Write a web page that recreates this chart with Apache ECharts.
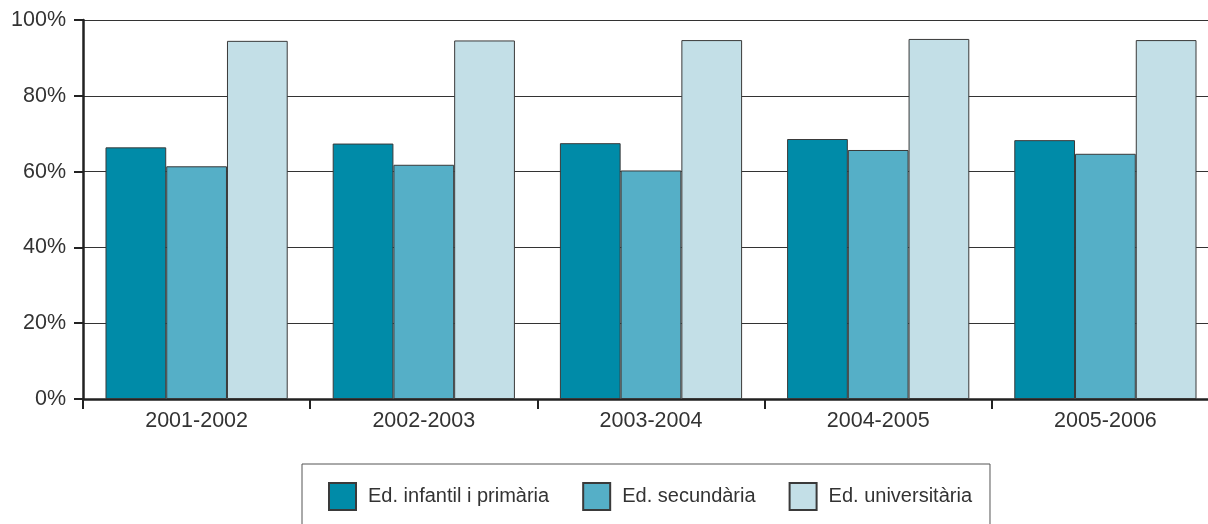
<!DOCTYPE html>
<html>
<head>
<meta charset="utf-8">
<script src="https://cdn.jsdelivr.net/npm/echarts@6/dist/echarts.min.js"></script>
<style>
html,body{margin:0;padding:0;background:#fff;overflow:hidden;width:1208px;height:524px;}
#chart{width:1219px;height:524px;}
</style>
</head>
<body>
<div id="chart"></div>
<script>
var categories = ['2001-2002', '2002-2003', '2003-2004', '2004-2005', '2005-2006'];
var seriesNames = ['Ed. infantil i primària', 'Ed. secundària', 'Ed. universitària'];
var infantil = [66.4, 67.4, 67.5, 68.6, 68.3];
var secundaria = [61.4, 61.8, 60.3, 65.7, 64.7];
var universitaria = [94.5, 94.6, 94.7, 95.0, 94.7];
var colors = ['#008ba8', '#55afc7', '#c3dfe7'];

var font = 'Liberation Sans, Arial, sans-serif';
var chart = echarts.init(document.getElementById('chart'));
function bar(name, data, color) {
  return {
    name: name, type: 'bar', data: data,
    barGap: '0%', barCategoryGap: '19.8%',
    itemStyle: { color: color, borderColor: '#3a3a3a', borderWidth: 1 },
    emphasis: { disabled: true }
  };
}
chart.setOption({
  animation: false,
  textStyle: { fontFamily: font },
  grid: { left: 83, top: 20, bottom: 125, right: 0, containLabel: false },
  legend: {
    left: 302, top: 464,
    padding: [18, 18, 20, 26],
    borderColor: '#555', borderWidth: 1,
    itemWidth: 27, itemHeight: 27, itemGap: 33,
    icon: 'rect',
    textStyle: { fontFamily: font, fontSize: 20, color: '#333', padding: [0, 0, 0, 7] },
    data: seriesNames
  },
  xAxis: {
    type: 'category', data: categories,
    axisLine: { lineStyle: { color: '#222', width: 2.5 } },
    axisTick: { show: true, length: 10, lineStyle: { color: '#222', width: 2 }, alignWithLabel: false },
    axisLabel: { fontFamily: font, fontSize: 21.5, color: '#333', margin: 11 }
  },
  yAxis: {
    type: 'value', min: 0, max: 100, interval: 20,
    axisLine: { show: true, lineStyle: { color: '#222', width: 2.5 } },
    axisTick: { show: true, length: 9, lineStyle: { color: '#222', width: 2 } },
    splitLine: { lineStyle: { color: '#333', width: 1 } },
    axisLabel: { fontFamily: font, fontSize: 21.5, color: '#333', margin: 17, formatter: '{value}%' }
  },
  series: [
    bar(seriesNames[0], infantil, colors[0]),
    bar(seriesNames[1], secundaria, colors[1]),
    bar(seriesNames[2], universitaria, colors[2])
  ]
});
</script>
</body>
</html>
